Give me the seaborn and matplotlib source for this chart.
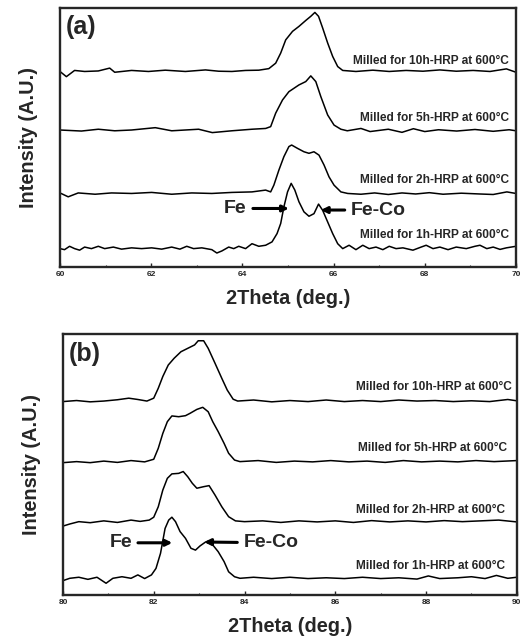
import numpy as np
import pandas as pd
import matplotlib
matplotlib.use("Agg")
import matplotlib.pyplot as plt
import seaborn as sns

sns.set_style("ticks")
plt.rcParams['font.family'] = ['Liberation Sans', 'DejaVu Sans']
plt.rcParams['font.weight'] = 'bold'

# ---------------- Panel (a): 2theta 60-70 ----------------
a10_x = [60.00, 60.14, 60.32, 60.54, 60.84, 61.09, 61.20, 61.57, 61.94, 62.31, 62.75, 63.19, 63.48,
         63.77, 64.07, 64.36, 64.58, 64.73, 64.84, 64.95, 65.10, 65.24, 65.39, 65.50, 65.59, 65.67,
         65.76, 65.87, 65.98, 66.09, 66.20, 66.49, 66.86, 67.22, 67.59, 67.96, 68.33, 68.69, 69.06,
         69.43, 69.79, 70.00]
a10_y = [75.5, 73.5, 75.9, 75.5, 75.7, 76.8, 75.2, 75.9, 75.5, 76.0, 75.5, 76.1, 75.6,
         75.5, 75.9, 76.0, 76.6, 78.7, 82.6, 87.7, 91.0, 92.9, 95.2, 96.8, 98.3, 96.8,
         92.3, 86.5, 81.3, 77.4, 75.9, 75.5, 76.0, 75.5, 75.9, 75.6, 76.1, 75.6, 75.9,
         75.5, 76.5, 75.2]

a5_x = [60.00, 60.47, 60.84, 61.20, 61.57, 62.09, 62.45, 63.04, 63.34, 63.77, 64.21, 64.51, 64.62,
        64.73, 64.88, 65.02, 65.24, 65.39, 65.50, 65.61, 65.72, 65.87, 66.01, 66.16, 66.30, 66.60,
        66.80, 67.20, 67.50, 67.75, 68.00, 68.30, 68.70, 69.10, 69.50, 69.85, 70.00]
a5_y = [52.9, 52.5, 53.2, 52.6, 52.9, 53.8, 52.6, 53.2, 51.9, 52.6, 53.2, 53.5, 54.2,
        59.4, 64.5, 67.7, 70.3, 71.6, 73.8, 71.6, 65.8, 58.7, 54.8, 53.2, 52.6, 53.5,
        52.3, 53.2, 52.0, 53.4, 52.3, 53.0, 52.5, 53.1, 52.4, 53.0, 52.6]

a2_x = [60.00, 60.18, 60.40, 60.77, 61.13, 61.57, 62.01, 62.45, 62.89, 63.33, 63.77, 64.21, 64.51,
        64.62, 64.69, 64.80, 64.91, 65.02, 65.08, 65.21, 65.35, 65.46, 65.57, 65.68, 65.79, 65.90,
        66.01, 66.16, 66.31, 66.60, 66.90, 67.20, 67.50, 67.80, 68.10, 68.40, 68.80, 69.20, 69.50,
        69.80, 70.00]
a2_y = [28.6, 27.1, 28.6, 28.1, 28.6, 28.4, 28.8, 28.1, 28.6, 28.4, 28.8, 29.0, 29.7,
        29.0, 31.6, 37.4, 42.6, 46.5, 47.1, 45.8, 44.5, 43.9, 44.5, 43.2, 39.4, 34.8,
        31.6, 29.0, 28.4, 28.1, 28.6, 28.0, 28.6, 28.2, 28.7, 28.1, 28.5, 28.2, 28.0,
        29.0, 28.4]

a1_x = [60.00, 60.10, 60.21, 60.32, 60.43, 60.54, 60.69, 60.84, 60.98, 61.17, 61.35, 61.57, 61.79,
        62.01, 62.23, 62.45, 62.63, 62.78, 62.93, 63.11, 63.33, 63.44, 63.55, 63.70, 63.81, 63.92,
        64.07, 64.21, 64.36, 64.51, 64.65, 64.76, 64.84, 64.91, 64.99, 65.07, 65.15, 65.24, 65.35,
        65.46, 65.57, 65.67, 65.76, 65.87, 65.98, 66.09, 66.20, 66.34, 66.49, 66.64, 66.78, 66.93,
        67.08, 67.22, 67.37, 67.52, 67.74, 67.92, 68.03, 68.18, 68.33, 68.51, 68.69, 68.91, 69.10,
        69.21, 69.36, 69.50, 69.65, 69.79, 70.00]
a1_y = [7.1, 6.7, 8.0, 7.1, 6.5, 7.7, 7.1, 8.0, 7.1, 7.7, 6.9, 7.4, 7.1,
        7.4, 6.9, 7.7, 6.9, 8.0, 7.1, 7.4, 6.7, 5.4, 6.2, 7.7, 7.1, 8.0,
        7.1, 9.0, 8.0, 8.4, 9.7, 12.9, 16.8, 23.2, 29.0, 32.3, 29.7, 25.2, 21.3,
        19.6, 20.6, 24.3, 21.9, 17.4, 12.9, 9.0, 7.1, 8.4, 6.7, 8.4, 7.1, 7.7,
        6.7, 8.0, 7.1, 7.4, 6.5, 7.7, 8.4, 7.1, 7.7, 6.7, 7.7, 7.1, 8.0,
        8.4, 7.1, 7.7, 6.8, 7.4, 8.0]

# ---------------- Panel (b): 2theta 80-90 ----------------
b10_x = [80.00, 80.30, 80.60, 80.90, 81.20, 81.45, 81.65, 81.85, 82.00, 82.10, 82.20, 82.32, 82.45,
         82.60, 82.75, 82.90, 82.98, 83.10, 83.20, 83.35, 83.50, 83.62, 83.75, 83.85, 84.20, 84.60,
         85.00, 85.40, 85.80, 86.20, 86.60, 87.00, 87.40, 87.80, 88.20, 88.60, 89.00, 89.40, 89.80,
         90.00]
b10_y = [74.1, 74.5, 74.0, 74.3, 74.8, 75.4, 74.9, 74.3, 75.4, 79.2, 83.7, 88.1, 90.7,
         93.2, 94.5, 95.8, 97.4, 97.4, 94.5, 88.8, 83.0, 78.5, 75.0, 74.3, 74.7, 74.0,
         74.5, 74.1, 74.7, 74.1, 74.5, 74.1, 74.7, 74.3, 74.5, 74.1, 74.4, 74.1, 74.9,
         74.4]

b5_x = [80.00, 80.30, 80.60, 80.90, 81.20, 81.50, 81.80, 82.00, 82.10, 82.20, 82.30, 82.40, 82.55,
        82.70, 82.80, 82.95, 83.08, 83.20, 83.30, 83.42, 83.55, 83.65, 83.78, 83.90, 84.30, 84.70,
        85.10, 85.50, 85.90, 86.30, 86.70, 87.10, 87.50, 87.90, 88.30, 88.70, 89.10, 89.50, 90.00]
b5_y = [50.7, 51.1, 50.7, 51.3, 50.8, 51.5, 51.0, 52.0, 56.2, 61.9, 66.4, 68.6, 68.3,
        68.7, 69.6, 71.1, 71.9, 70.2, 66.4, 62.6, 58.1, 54.3, 51.7, 51.1, 51.5, 50.8,
        51.3, 51.0, 51.5, 51.0, 51.3, 50.8, 51.5, 51.0, 51.3, 51.0, 51.5, 51.1, 51.5]

b2_x = [80.00, 80.15, 80.35, 80.60, 80.90, 81.20, 81.50, 81.70, 81.90, 82.00, 82.10, 82.20, 82.30,
        82.40, 82.55, 82.65, 82.75, 82.85, 82.95, 83.10, 83.22, 83.35, 83.50, 83.65, 83.80, 84.00,
        84.40, 84.80, 85.20, 85.60, 86.00, 86.40, 86.80, 87.20, 87.60, 88.00, 88.40, 88.80, 89.20,
        89.60, 90.00]
b2_y = [26.4, 27.2, 28.1, 27.7, 28.4, 27.8, 28.7, 28.2, 28.7, 29.8, 33.8, 40.2, 44.7,
        46.4, 46.6, 47.3, 45.3, 42.8, 40.9, 41.5, 41.9, 38.3, 33.8, 30.0, 28.4, 28.1,
        28.4, 27.8, 28.4, 28.0, 28.4, 27.8, 28.5, 28.0, 28.4, 28.0, 28.5, 28.1, 28.4,
        28.7, 28.0]

b1_x = [80.00, 80.15, 80.35, 80.55, 80.75, 80.95, 81.10, 81.30, 81.50, 81.65, 81.80, 81.95, 82.05,
        82.15, 82.25, 82.33, 82.40, 82.48, 82.58, 82.70, 82.82, 82.92, 83.02, 83.15, 83.30, 83.42,
        83.55, 83.65, 83.78, 83.90, 84.20, 84.60, 85.00, 85.40, 85.80, 86.20, 86.60, 87.00, 87.40,
        87.80, 88.05, 88.30, 88.70, 89.00, 89.30, 89.55, 89.80, 90.00]
b1_y = [5.5, 6.4, 6.8, 6.0, 6.8, 4.5, 6.4, 7.0, 6.4, 7.7, 6.3, 7.7, 10.2,
        16.0, 25.5, 28.7, 29.8, 28.1, 24.3, 21.7, 17.9, 17.2, 18.8, 20.4, 19.2, 16.6,
        12.8, 8.9, 7.0, 6.4, 6.8, 6.3, 6.8, 6.3, 6.6, 6.3, 6.8, 6.3, 6.6,
        6.1, 7.3, 6.3, 6.6, 7.0, 6.3, 7.5, 6.4, 6.8]

labels = ["Milled for 10h-HRP at 600°C", "Milled for 5h-HRP at 600°C",
          "Milled for 2h-HRP at 600°C", "Milled for 1h-HRP at 600°C"]

panel_a = [(a10_x, a10_y), (a5_x, a5_y), (a2_x, a2_y), (a1_x, a1_y)]
panel_b = [(b10_x, b10_y), (b5_x, b5_y), (b2_x, b2_y), (b1_x, b1_y)]

fig = plt.figure(figsize=(5.29, 6.42), dpi=100)
ax_a = fig.add_axes([0.1134, 0.5841, 0.862, 0.4034])
ax_b = fig.add_axes([0.1190, 0.0732, 0.858, 0.4066])


def draw(ax, series, xlo, label_pos, tag, fe, feco):
    for (xs, ys) in series:
        df = pd.DataFrame({"x": xs, "y": ys})
        sns.lineplot(data=df, x="x", y="y", ax=ax, color="black", linewidth=1.1,
                     estimator=None, sort=False)
    for lab, (lx, ly) in zip(labels, label_pos):
        ax.text(lx, ly, lab, ha="right", va="center", fontsize=8.6, fontweight="bold")
    ax.text(xlo + 0.12, 92.5, tag, ha="left", va="center", fontsize=18, fontweight="bold")
    ax.annotate("Fe", xy=fe[0], xytext=fe[1], ha="center", va="center",
                fontsize=14, fontweight="bold",
                arrowprops=dict(arrowstyle="-|>", color="black", lw=2.2,
                                mutation_scale=9, shrinkA=2, shrinkB=0))
    ax.annotate("Fe-Co", xy=feco[0], xytext=feco[1], ha="center", va="center",
                fontsize=14, fontweight="bold",
                arrowprops=dict(arrowstyle="-|>", color="black", lw=2.2,
                                mutation_scale=9, shrinkA=2, shrinkB=0))
    ax.set_xlim(xlo, xlo + 10)
    ax.set_ylim(0, 100)
    ax.set_xticks(np.arange(xlo, xlo + 11, 2))
    ax.set_xticks(np.arange(xlo + 1, xlo + 10, 2), minor=True)
    ax.set_xticklabels([str(v) for v in range(xlo, xlo + 11, 2)], fontsize=6, fontweight="bold")
    ax.set_yticks([])
    ax.tick_params(axis="x", which="major", direction="in", length=3, width=1, pad=3)
    ax.tick_params(axis="x", which="minor", direction="in", length=1.5, width=0.8)
    for sp in ax.spines.values():
        sp.set_visible(True)
        sp.set_linewidth(1.7)
    ax.set_xlabel("2Theta (deg.)", fontsize=14.3, fontweight="bold", labelpad=8)
    ax.set_ylabel("Intensity (A.U.)", fontsize=14.3, fontweight="bold", labelpad=16)


draw(ax_a, panel_a, 60,
     [(69.85, 79.4), (69.85, 57.4), (69.85, 33.5), (69.85, 12.3)], "(a)",
     ((65.02, 22.6), (63.85, 22.6)), ((65.72, 22.0), (66.98, 22.0)))
draw(ax_b, panel_b, 80,
     [(89.88, 79.8), (89.78, 56.2), (89.75, 32.6), (89.75, 11.1)], "(b)",
     ((82.41, 20.0), (81.27, 20.0)), ((83.11, 20.3), (84.58, 20.0)))

fig.savefig("out.png", dpi=100)
